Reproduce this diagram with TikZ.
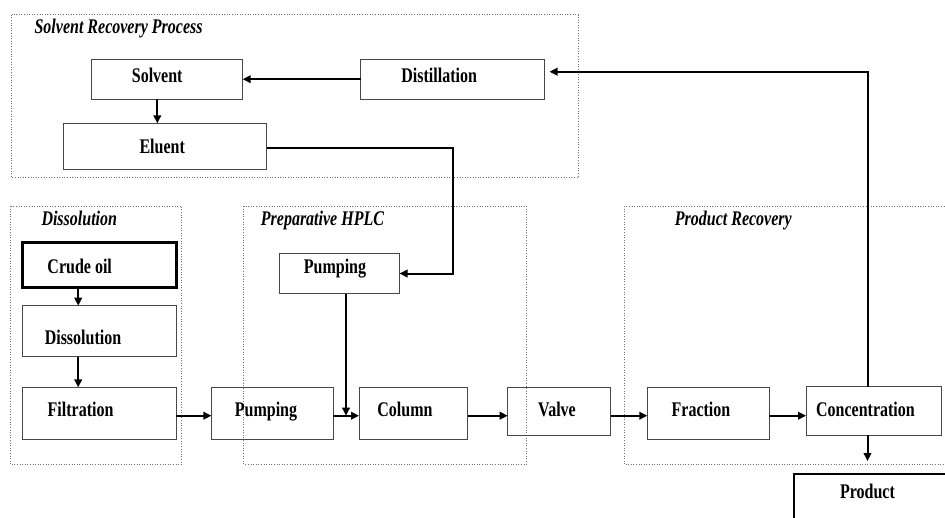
\documentclass[tikz,border=0pt]{standalone}
\usepackage{fontspec}
\setmainfont{Liberation Serif}
\usepackage{graphicx}
\usetikzlibrary{arrows.meta,calc}
\newcommand{\lbl}[1]{\scalebox{1}[1.3]{#1}}
\begin{document}
\begin{tikzpicture}[x=1pt,y=-1pt,
  box/.style={draw=black!72, line width=1pt, inner sep=0pt, outer sep=0pt},
  thickbox/.style={draw=black, line width=2.8pt, inner sep=0pt, outer sep=0pt},
  grp/.style={draw=black!55, line width=0.8pt, dash pattern=on 1pt off 1.6pt},
  lab/.style={font=\fontsize{16}{18}\selectfont\bfseries, anchor=base, inner sep=0pt},
  ttl/.style={font=\fontsize{16}{18}\selectfont\bfseries\itshape, anchor=base west, inner sep=0pt},
  arr/.style={line width=2pt, line join=miter, -{Triangle[length=8pt,width=7.5pt]}}]
\useasboundingbox (0,0) rectangle (945,517);
\clip (0,0) rectangle (945,517);

% group frames
\draw[grp] (11.5,14.7) rectangle (578,177.7);
\draw[grp] (10.3,206) rectangle (181.5,464.5);
\draw[grp] (243.8,206) rectangle (526.2,464.5);
\draw[grp] (624,206) rectangle (960,464.5);

% group titles
\node[ttl] (tsrp) at (34.4,33.5) {\lbl{Solvent Recovery Process}};
\node[ttl] (tdis) at (41.3,225) {\lbl{Dissolution}};
\node[ttl] (thplc) at (260.7,225) {\lbl{Preparative HPLC}};
\node[ttl] (tprec) at (674.7,225) {\lbl{Product Recovery}};

% boxes
\node[box, minimum width=151pt, minimum height=40.3pt] (solvent) at (167.2,79.2) {};
\node[box, minimum width=184pt, minimum height=40.3pt] (distill) at (452.5,79.2) {};
\node[box, minimum width=202.7pt, minimum height=45.7pt] (eluent) at (165.3,146.2) {};
\node[thickbox, minimum width=154pt, minimum height=45pt] (crude) at (99.7,265) {};
\node[box, minimum width=153.5pt, minimum height=51pt] (dissol) at (99.7,331.2) {};
\node[box, minimum width=153.5pt, minimum height=51.7pt] (filtr) at (99.7,413.2) {};
\node[box, minimum width=120pt, minimum height=40pt] (pump1) at (339.5,273.5) {};
\node[box, minimum width=121.6pt, minimum height=51.7pt] (pump2) at (272.2,413.2) {};
\node[box, minimum width=108.6pt, minimum height=51.7pt] (column) at (413.3,413.2) {};
\node[box, minimum width=103pt, minimum height=48.4pt] (valve) at (559.2,411.5) {};
\node[box, minimum width=122pt, minimum height=51.7pt] (fraction) at (708.3,413.2) {};
\node[box, minimum width=135.7pt, minimum height=48.3pt] (conc) at (873.9,410.9) {};
\node[thickbox, minimum width=170pt, minimum height=60pt] (product) at (879,504) {};

% labels
\node[lab] (lsolvent) at (157.2,82) {\lbl{Solvent}};
\node[lab] (ldistill) at (439.2,82) {\lbl{Distillation}};
\node[lab] (leluent) at (162.2,153.7) {\lbl{Eluent}};
\node[lab] (lcrude) at (79.7,273) {\lbl{Crude oil}};
\node[lab] (ldissol) at (83,344.5) {\lbl{Dissolution}};
\node[lab] (lfiltr) at (80.6,416.5) {\lbl{Filtration}};
\node[lab] (lpump1) at (335,273.7) {\lbl{Pumping}};
\node[lab] (lpump2) at (266,416.5) {\lbl{Pumping}};
\node[lab] (lcolumn) at (405,416.5) {\lbl{Column}};
\node[lab] (lvalve) at (557,416.5) {\lbl{Valve}};
\node[lab] (lfraction) at (701,416.5) {\lbl{Fraction}};
\node[lab] (lconc) at (865.5,416.5) {\lbl{Concentration}};
\node[lab] (lproduct) at (867.5,498.7) {\lbl{Product}};

% helper coordinates
\coordinate (s2e) at (157.3,0);
\coordinate (ely) at (0,147.7);
\coordinate (ebend) at (453,0);
\coordinate (c78) at (78.2,0);
\coordinate (p1x) at (346,0);
\coordinate (row) at (0,415.7);
\coordinate (ret) at (867.5,71.7);
\coordinate (prodtip) at (867.5,461);

% connectors
\draw[arr] (distill.west) -- (solvent.east);
\draw[arr] (solvent.south -| s2e) -- (eluent.north -| s2e);
\draw[arr] (eluent.east |- ely) -| (ebend |- pump1.east) -- (pump1.east);
\draw[arr] (crude.south -| c78) -- (dissol.north -| c78);
\draw[arr] (dissol.south -| c78) -- (filtr.north -| c78);
\draw[arr] (filtr.east |- row) -- (pump2.west |- row);
\draw[arr] (pump1.south -| p1x) -- (row -| p1x);
\draw[arr] (pump2.east |- row) -- (column.west |- row);
\draw[arr] (column.east |- row) -- (valve.west |- row);
\draw[arr] (valve.east |- row) -- (fraction.west |- row);
\draw[arr] (fraction.east |- row) -- (conc.west |- row);
\draw[arr] (conc.south -| prodtip) -- (prodtip);
\draw[arr, shorten >=5pt] (conc.north -| ret) -- (ret) -- (distill.east |- ret);
\end{tikzpicture}
\end{document}
